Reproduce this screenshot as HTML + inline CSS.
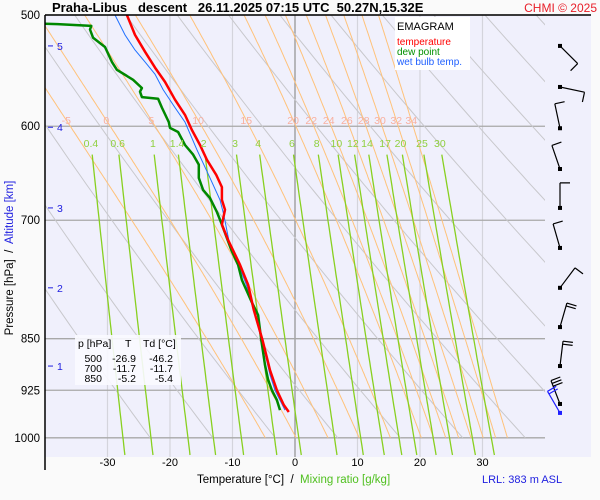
<!DOCTYPE html>
<html><head><meta charset="utf-8"><style>
html,body{margin:0;padding:0;background:#fafafa;}
svg{display:block;font-family:"Liberation Sans",sans-serif;}
</style></head><body>
<svg id="c" width="600" height="500" viewBox="0 0 600 500">
<defs>
<clipPath id="pa"><rect x="45" y="15" width="500" height="442"/></clipPath>
<clipPath id="pb"><rect x="45" y="15" width="546" height="442"/></clipPath>
</defs>
<rect x="45" y="15" width="546" height="442" fill="#f0f0fc"/>
<g id="grid"></g>
<g id="bg" clip-path="url(#pa)"></g>
<g id="prof" clip-path="url(#pb)"></g>
<g id="wind"></g>
<g id="labels"></g>
<line x1="45" y1="15" x2="45" y2="470" stroke="#000" stroke-width="1.5"/>
<line x1="45" y1="15" x2="591" y2="15" stroke="#000" stroke-width="1.5"/>
<text x="52" y="12" font-size="13" font-weight="bold" xml:space="preserve">Praha-Libus   descent   26.11.2025 07:15 UTC  50.27N,15.32E</text>
<text x="597" y="12" font-size="12" fill="#e8202a" text-anchor="end">CHMI © 2025</text>
<rect x="395" y="17" width="75" height="53" fill="#fff"/>
<text x="397" y="30" font-size="11">EMAGRAM</text>
<text x="397" y="45" font-size="10" fill="#ff0000">temperature</text>
<text x="397" y="55" font-size="10" fill="#009000">dew point</text>
<text x="397" y="65" font-size="10" fill="#2060ff">wet bulb temp.</text>
<rect x="75" y="335" width="106" height="50" fill="#fafaff" opacity="0.9"/>
<g font-size="10.5">
<text x="78" y="347">p [hPa]</text><text x="125" y="347">T</text><text x="143" y="347">Td [°C]</text>
<text x="102" y="362" text-anchor="end">500</text><text x="136" y="362" text-anchor="end">-26.9</text><text x="173" y="362" text-anchor="end">-46.2</text>
<text x="102" y="372" text-anchor="end">700</text><text x="136" y="372" text-anchor="end">-11.7</text><text x="173" y="372" text-anchor="end">-11.7</text>
<text x="102" y="382" text-anchor="end">850</text><text x="136" y="382" text-anchor="end">-5.2</text><text x="173" y="382" text-anchor="end">-5.4</text>
</g>
<text transform="translate(13,258) rotate(-90)" font-size="11.5" text-anchor="middle" xml:space="preserve">Pressure [hPa]  /  <tspan fill="#2020e0">Altitude [km]</tspan></text>
<text x="197" y="483" font-size="11.5" xml:space="preserve">Temperature [°C]  /  <tspan fill="#50c020">Mixing ratio [g/kg]</tspan></text>
<text x="482" y="483" font-size="11" fill="#2020e0">LRL: 383 m ASL</text>
</svg>
<script>
const pLevels=[500,600,700,850,925,1000];
const tTicks=[-30,-20,-10,0,10,20,30];
const altKm=[5,4,3,2,1];
const altP=[526,601,686,782,889];
const thetaList=[250,260,270,280,290,300,310,320,330,340,350,360,370,380,390,400,410];
const orangeLabels=[-5,0,5,10,15,20,22,24,26,28,30,32,34];
const orangeT594=[-36.6,-30.2,-23,-15.5,-7.8,-0.3,2.6,5.4,8.3,11,13.6,16.2,18.6];
const mixRatios=[0.4,0.6,1,1.4,2,3,4,6,8,10,12,14,17,20,25,30];
const tempP=[500,516.6,531,545,558,574.5,589,603.7,618.8,634,650,663,677,688,705,723,753,778,811,852,895,925,947.6,958.6];
const tempT=[-26.9,-25.6,-24,-22.4,-20.8,-19.2,-17.6,-16.5,-15.2,-14.1,-12.6,-11.7,-11.7,-11.2,-11.7,-10.7,-8.8,-7.5,-6.6,-5.2,-4,-2.9,-1.8,-1.0];
const dewP=[500,507,507.5,509,512,519,526.9,540,547,556,563.6,567,572,573.6,582,596,601.7,605.7,618.8,628.6,639,653,666,675,690.6,705,735,753,772,801,817.6,852,887.5,909,925,940,955.5];
const dewT=[-46.2,-42,-38,-32.6,-32.8,-32.3,-30.4,-29.3,-28.5,-25.9,-24.5,-24.8,-24.5,-21.9,-21.3,-20.2,-20,-18.7,-17.6,-16.3,-15.4,-15.4,-14.7,-13.6,-12.5,-11.7,-10.2,-9.1,-8.5,-6.9,-5.9,-5.4,-4.8,-4.3,-3.7,-2.9,-2.4];
const wbP=[500,516.6,529.5,540,551,565,582,596,623.6,653,677,694,723,778,852,902,925,955.5];
const wbT=[-28.8,-27.2,-25.6,-24,-22.4,-21.1,-19.2,-17.6,-15.7,-13.6,-12,-11.4,-10.6,-7.8,-5.3,-4,-3.2,-1.6];
const windP=[526,562.6,602,643.6,686,732.5,782,834,889,946];
const windBearing=[135,102,348,341,0,344,37,16,7,339];
const windBarbs=[1,1,1,1,1,1,1,2,2,3];
const surfWindP=[960];const surfWindBearing=[330];const surfWindBarbs=[2];

const NS='http://www.w3.org/2000/svg';
const X=t=>295+6.25*t;
const Y=p=>15+610*Math.log(p/500);
function mk(parent,tag,attrs){const e=document.createElementNS(NS,tag);for(const k in attrs)e.setAttribute(k,attrs[k]);document.getElementById(parent).appendChild(e);return e;}
function pts(ps,ts){return ps.map((p,i)=>X(ts[i]).toFixed(1)+','+Y(p).toFixed(1)).join(' ');}

// grid
tTicks.forEach(t=>{const e=mk('grid','line',{x1:X(t),x2:X(t),y1:15,y2:457,stroke:t===0?'#909090':'#d4d4dc','stroke-width':1.2});


const l=mk('labels','text',{x:X(t),y:466,'font-size':11,'text-anchor':'middle'});l.textContent=t;

});
pLevels.forEach(p=>{const e=mk('grid','line',{x1:45,x2:545,y1:Y(p),y2:Y(p),stroke:'#a8a8a8','stroke-width':1.3});


const l=mk('labels','text',{x:40,y:Y(p)+4,'font-size':11.5,'text-anchor':'end'});l.textContent=p;

});
altKm.forEach((k,i)=>{const y=Y(altP[i]);const e=mk('labels','line',{x1:48,x2:53,y1:y,y2:y,stroke:'#2020e0','stroke-width':1});


const l=mk('labels','text',{x:57,y:y+4,'font-size':10.5,fill:'#2020e0'});l.textContent=k;

});

// dry adiabats
thetaList.forEach(th=>{const a=[];for(let p=500;p<=1000;p+=10){a.push(X(th*Math.pow(p/1000,0.2857)-273.15).toFixed(1)+','+Y(p).toFixed(1));}
const e=mk('bg','polyline',{points:a.join(' '),fill:'none',stroke:'#c8c8cc','stroke-width':1});

});

// moist adiabats
function es(tc){return 6.112*Math.exp(17.67*tc/(tc+243.5));}
function dTdp(T,p){const tc=T-273.15;const e=es(tc);const rs=0.622*e/(p-e);return (287*T+2.5e6*rs)/(p*(1004+2.5e6*2.5e6*rs*0.622/(287*T*T)));}
function moist(T0,p0){const up=[],dn=[];let T=T0+273.15;for(let p=p0;p>=500;p-=2){up.push([p,T]);T-=dTdp(T,p)*2;}
T=T0+273.15;for(let p=p0;p<=1000;p+=2){dn.push([p,T]);T+=dTdp(T,p)*2;}
return up.reverse().concat(dn).map(q=>X(q[1]-273.15).toFixed(1)+','+Y(q[0]).toFixed(1)).join(' ');}
orangeLabels.forEach((v,i)=>{const e=mk('bg','polyline',{points:moist(orangeT594[i],594),fill:'none',stroke:'#ffc27a','stroke-width':1});


const l=mk('labels','text',{x:X(orangeT594[i]),y:124,'font-size':10.5,fill:'#f8b0a0','text-anchor':'middle'});l.textContent=v;

});

// mixing ratio
function tdw(w,p){const e=w/1000*p/(0.622+w/1000);const L=Math.log(e/6.112);return 243.5*L/(17.67-L);}
mixRatios.forEach(w=>{const a=[];for(let p=628.6;p<=1032;p+=8){a.push(X(tdw(w,p)).toFixed(1)+','+Y(p).toFixed(1));}
const e=mk('bg','polyline',{points:a.join(' '),fill:'none',stroke:'#88d020','stroke-width':1.3});


const l=mk('labels','text',{x:X(tdw(w,616.8)),y:147,'font-size':10.5,fill:'#90d040','text-anchor':'middle'});l.textContent=w;

});

// profiles
let e=mk('prof','polyline',{points:pts(wbP,wbT),fill:'none',stroke:'#2070ff','stroke-width':1});


e=mk('prof','polyline',{points:pts(dewP,dewT),fill:'none',stroke:'#008800','stroke-width':2.5,'stroke-linejoin':'round'});


e=mk('prof','polyline',{points:pts(tempP,tempT),fill:'none',stroke:'#ff0000','stroke-width':2.5,'stroke-linejoin':'round'});



// wind barbs
function barb(p,b,n,col){const x0=560,y0=Y(p);const r=b*Math.PI/180;const dx=Math.sin(r),dy=-Math.cos(r);
const tx=x0+dx*25,ty=y0+dy*25;let d='M'+x0+' '+y0.toFixed(1)+'L'+tx.toFixed(1)+' '+ty.toFixed(1);
const bx=-dy,by=dx;for(let k=0;k<n;k++){const sx=tx-dx*3*k,sy=ty-dy*3*k;d+='M'+sx.toFixed(1)+' '+sy.toFixed(1)+'l'+(bx*10).toFixed(1)+' '+(by*10).toFixed(1);}
const g=mk('wind','path',{d:d,fill:'none',stroke:col,'stroke-width':1.2});


const c=mk('wind','rect',{x:x0-2,y:y0-2,width:4,height:4,fill:col});

}
windP.forEach((p,i)=>barb(p,windBearing[i],windBarbs[i],'#000'));
surfWindP.forEach((p,i)=>barb(p,surfWindBearing[i],surfWindBarbs[i],'#2020ff'));
</script>
</body></html>
